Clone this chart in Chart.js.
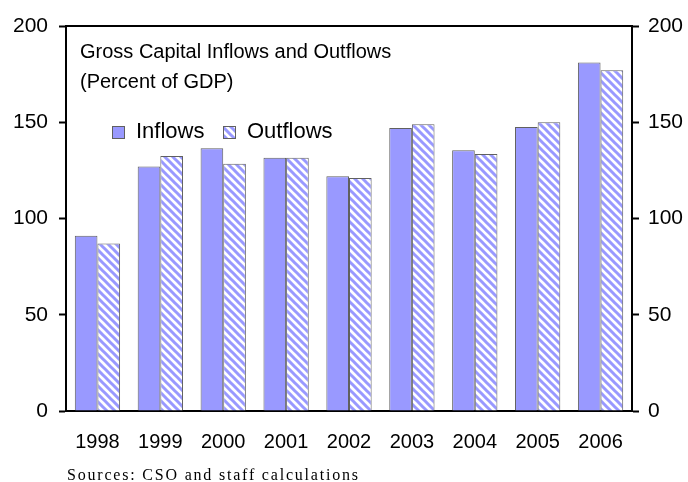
<!DOCTYPE html>
<html lang="en">
<head>
    <meta charset="UTF-8">
    <title>Gross Capital Inflows and Outflows</title>
    <script src="https://cdn.jsdelivr.net/npm/chart.js"></script>
    <style>
        body {
            margin: 0;
            background-color: white;
        }
        canvas {
            display: block;
        }
    </style>
</head>
<body>
    <canvas id="capitalChart" width="688" height="482"></canvas>

    <script>
        // data
        const years = ['1998', '1999', '2000', '2001', '2002', '2003', '2004', '2005', '2006'];
        const inflows = [91, 127, 136.5, 131.5, 122, 147, 135.5, 147.5, 181];
        const outflows = [87, 132.5, 128.5, 131.5, 121, 149, 133.5, 150, 177];
        const yTicks = [0, 50, 100, 150, 200];

        const titleLines = ['Gross Capital Inflows and Outflows', '(Percent of GDP)'];
        const sourceNote = 'Sources: CSO and staff calculations';

        const blue = '#9999ff';
        const edge = '#606060';
        const font = '"Liberation Sans", Arial, sans-serif';

        // diagonal hatch for outflows
        function makeHatch() {
            const c = document.createElement('canvas');
            c.width = 8;
            c.height = 8;
            const g = c.getContext('2d');
            g.fillStyle = 'white';
            g.fillRect(0, 0, 8, 8);
            g.strokeStyle = blue;
            g.lineWidth = 3;
            g.beginPath();
            for (let k = -8; k <= 8; k += 8) {
                g.moveTo(k - 2, -2);
                g.lineTo(k + 10, 10);
            }
            g.stroke();
            return g.createPattern(c, 'repeat');
        }

        const ctx = document.getElementById('capitalChart').getContext('2d');
        const hatch = makeHatch();

        const decorations = {
            id: 'decorations',
            afterDraw(chart) {
                const c = chart.ctx;
                const a = chart.chartArea;
                c.save();

                // top frame line
                c.strokeStyle = 'black';
                c.lineWidth = 2;
                c.beginPath();
                c.moveTo(a.left, a.top);
                c.lineTo(a.right, a.top);
                c.stroke();

                // title
                c.fillStyle = 'black';
                c.textBaseline = 'middle';
                c.textAlign = 'left';
                c.font = '20px ' + font;
                c.fillText(titleLines[0], 80, 52);
                c.fillText(titleLines[1], 80, 82);

                // legend
                const items = [
                    { label: chart.data.datasets[0].label, fill: blue, x: 112 },
                    { label: chart.data.datasets[1].label, fill: hatch, x: 223 }
                ];
                c.font = '22px ' + font;
                items.forEach(it => {
                    c.fillStyle = it.fill;
                    c.fillRect(it.x, 126, 13, 13);
                    c.strokeStyle = edge;
                    c.lineWidth = 1;
                    c.strokeRect(it.x + 0.5, 126.5, 12, 12);
                    c.fillStyle = 'black';
                    c.fillText(it.label, it.x + 24, 132);
                });

                // source note
                c.textBaseline = 'alphabetic';
                c.font = '16px "Liberation Serif", "Times New Roman", serif';
                const w = c.measureText(sourceNote).width;
                const spacing = (291 - w) / (sourceNote.length - 1);
                c.letterSpacing = Math.max(0, spacing).toFixed(2) + 'px';
                c.fillText(sourceNote, 67, 480);
                c.restore();
            }
        };

        const yAxis = (position, width, pad) => ({
            position: position,
            min: 0,
            max: 200,
            afterBuildTicks: scale => {
                scale.ticks = yTicks.map(v => ({ value: v }));
            },
            afterFit: scale => {
                scale.width = width;
            },
            grid: {
                display: true,
                drawOnChartArea: false,
                drawTicks: true,
                tickLength: 7,
                tickWidth: 2,
                color: 'black'
            },
            border: { display: true, color: 'black', width: 2 },
            ticks: {
                padding: pad,
                color: 'black',
                font: { family: font, size: 21 }
            }
        });

        const chart = new Chart(ctx, {
            type: 'bar',
            data: {
                labels: years,
                datasets: [{
                    label: 'Inflows',
                    data: inflows,
                    backgroundColor: blue,
                    borderColor: edge,
                    borderWidth: 1,
                    yAxisID: 'y'
                }, {
                    label: 'Outflows',
                    data: outflows,
                    backgroundColor: hatch,
                    borderColor: edge,
                    borderWidth: 1,
                    yAxisID: 'y'
                }]
            },
            options: {
                responsive: false,
                animation: false,
                layout: {
                    padding: { top: 26, left: 0, right: 0, bottom: 0 }
                },
                datasets: {
                    bar: {
                        categoryPercentage: 0.72,
                        barPercentage: 1.0
                    }
                },
                scales: {
                    x: {
                        afterFit: scale => {
                            scale.height = 71;
                        },
                        grid: { display: false, drawTicks: false },
                        border: { display: true, color: 'black', width: 2 },
                        ticks: {
                            padding: 19,
                            color: 'black',
                            maxRotation: 0,
                            font: { family: font, size: 20 }
                        }
                    },
                    y: yAxis('left', 66, 11),
                    y2: yAxis('right', 56, 9)
                },
                plugins: {
                    legend: { display: false },
                    tooltip: { enabled: false }
                }
            },
            plugins: [decorations]
        });
    </script>
</body>
</html>
